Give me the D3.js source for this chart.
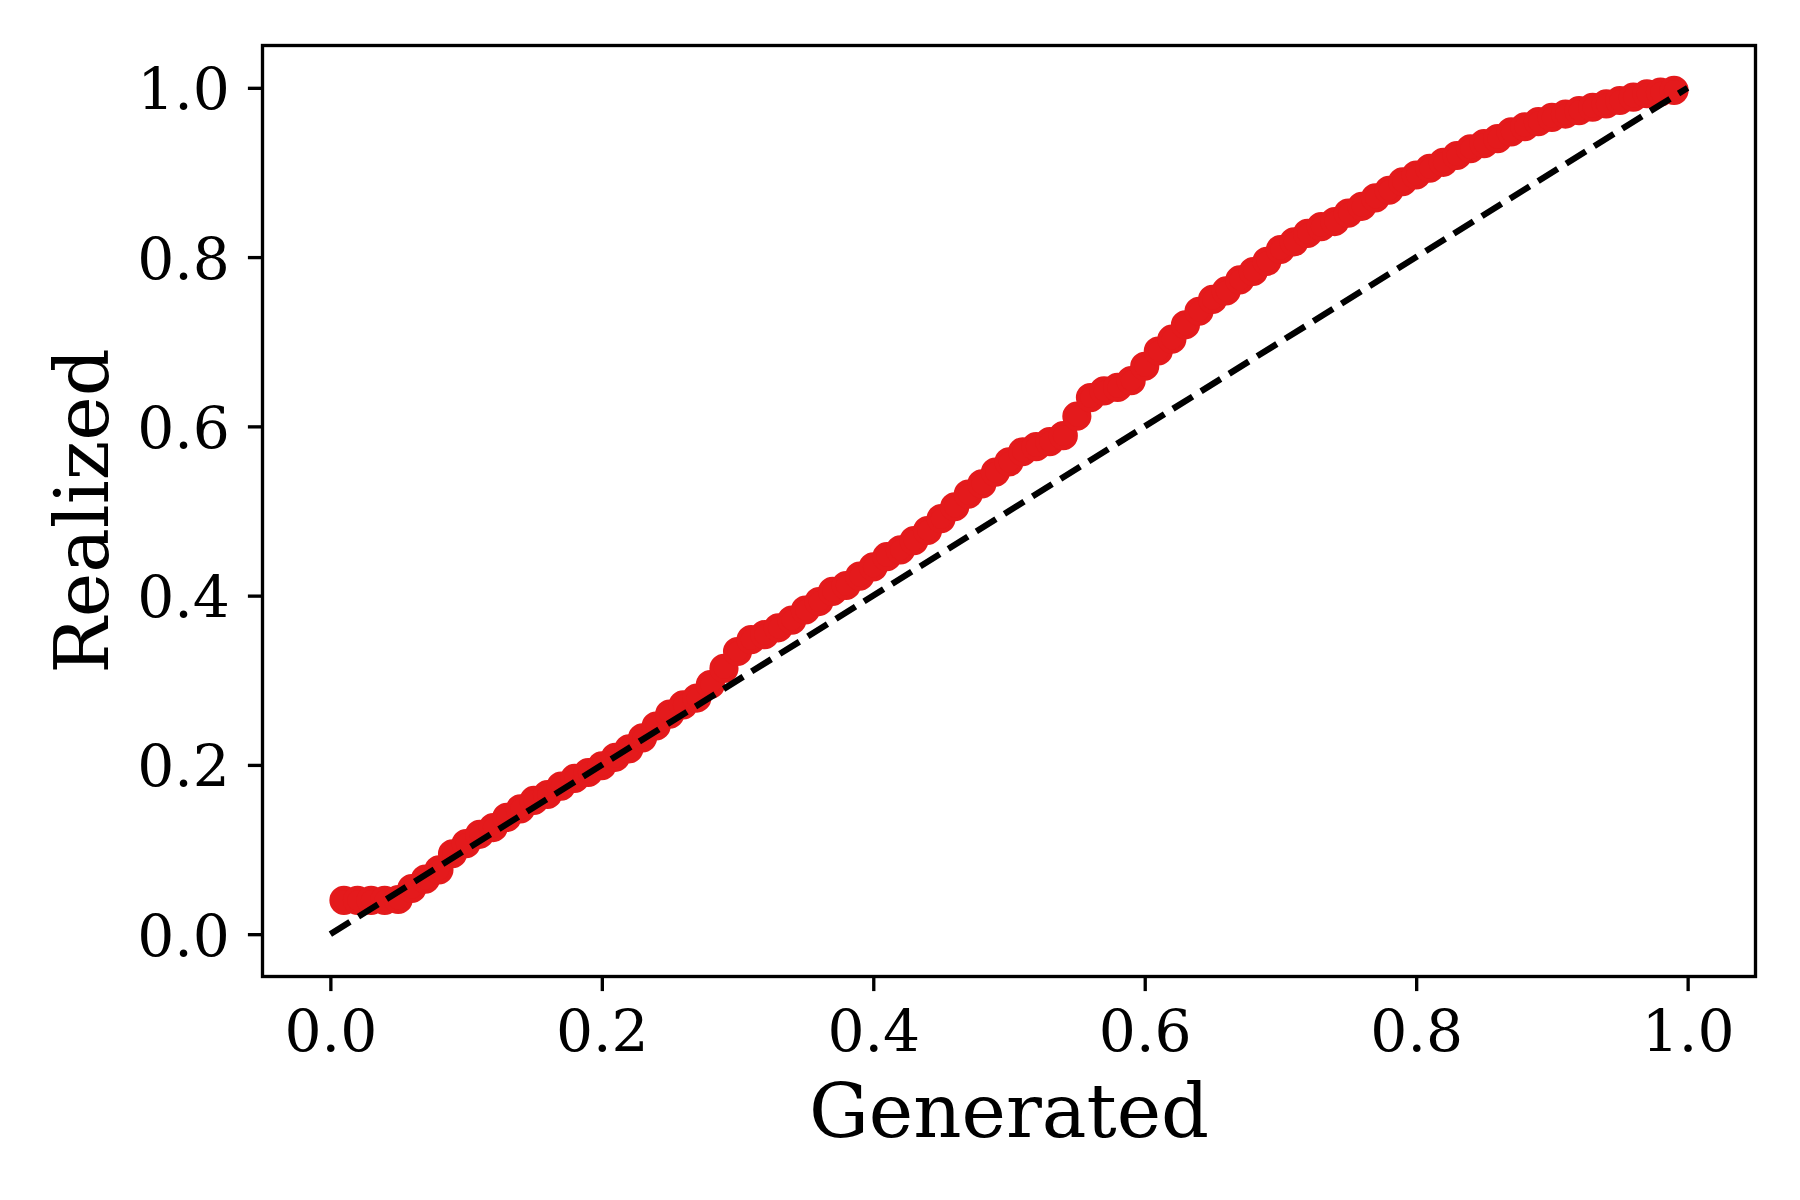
<!DOCTYPE html>
<html>
<head>
<meta charset="utf-8">
<script src="https://cdn.jsdelivr.net/npm/d3@7"></script>
<style>
  body { margin: 0; background: #fff; }
  svg { display: block; font-family: "DejaVu Serif", serif; }
  .tick text { font-size: 58.3px; fill: #000; }
  .tick line { stroke: #000; stroke-width: 3.33; }
</style>
</head>
<body>
<svg id="chart" width="1800" height="1200"></svg>
<script>
// calibration points
const generated = [
  0.01, 0.02, 0.03, 0.04, 0.05, 0.06, 0.07, 0.08, 0.09, 0.10,
  0.11, 0.12, 0.13, 0.14, 0.15, 0.16, 0.17, 0.18, 0.19, 0.20,
  0.21, 0.22, 0.23, 0.24, 0.25, 0.26, 0.27, 0.28, 0.29, 0.30,
  0.31, 0.32, 0.33, 0.34, 0.35, 0.36, 0.37, 0.38, 0.39, 0.40,
  0.41, 0.42, 0.43, 0.44, 0.45, 0.46, 0.47, 0.48, 0.49, 0.50,
  0.51, 0.52, 0.53, 0.54, 0.55, 0.56, 0.57, 0.58, 0.59, 0.60,
  0.61, 0.62, 0.63, 0.64, 0.65, 0.66, 0.67, 0.68, 0.69, 0.70,
  0.71, 0.72, 0.73, 0.74, 0.75, 0.76, 0.77, 0.78, 0.79, 0.80,
  0.81, 0.82, 0.83, 0.84, 0.85, 0.86, 0.87, 0.88, 0.89, 0.90,
  0.91, 0.92, 0.93, 0.94, 0.95, 0.96, 0.97, 0.98, 0.99
];
const realized = [
  0.040, 0.040, 0.040, 0.040, 0.041, 0.054, 0.065, 0.076, 0.095, 0.107,
  0.118, 0.126, 0.138, 0.148, 0.158, 0.165, 0.175, 0.184, 0.191, 0.199,
  0.209, 0.219, 0.232, 0.246, 0.260, 0.271, 0.279, 0.295, 0.314, 0.334,
  0.348, 0.354, 0.362, 0.371, 0.383, 0.393, 0.405, 0.412, 0.423, 0.434,
  0.446, 0.454, 0.465, 0.477, 0.491, 0.505, 0.520, 0.532, 0.546, 0.558,
  0.570, 0.576, 0.582, 0.589, 0.612, 0.634, 0.642, 0.646, 0.654, 0.671,
  0.689, 0.703, 0.720, 0.736, 0.750, 0.760, 0.773, 0.783, 0.795, 0.809,
  0.818, 0.828, 0.836, 0.842, 0.852, 0.860, 0.870, 0.879, 0.889, 0.897,
  0.905, 0.912, 0.920, 0.928, 0.934, 0.940, 0.948, 0.954, 0.960, 0.965,
  0.969, 0.973, 0.977, 0.981, 0.985, 0.989, 0.993, 0.995, 0.997
];
const diagonal = [0, 1];
const xTicks = [0.0, 0.2, 0.4, 0.6, 0.8, 1.0];
const yTicks = [0.0, 0.2, 0.4, 0.6, 0.8, 1.0];

const svg = d3.select("#chart");
const plot = { left: 262.5, right: 1755.5, top: 45.5, bottom: 976.5 };

const x = d3.scaleLinear().domain([-0.05, 1.05]).range([plot.left, plot.right]);
const y = d3.scaleLinear().domain([-0.05, 1.05]).range([plot.bottom, plot.top]);

const points = generated.map((g, i) => ({ g: g, r: realized[i] }));

// markers
svg
  .append("g")
  .selectAll("circle")
  .data(points)
  .join("circle")
  .attr("cx", (d) => x(d.g))
  .attr("cy", (d) => y(d.r))
  .attr("r", 12.5)
  .attr("fill", "#e41a1c")
  .attr("stroke", "#e41a1c")
  .attr("stroke-width", 4.17);

// perfect calibration line
svg
  .append("line")
  .attr("x1", x(diagonal[0]))
  .attr("y1", y(diagonal[0]))
  .attr("x2", x(diagonal[1]))
  .attr("y2", y(diagonal[1]))
  .attr("stroke", "#000")
  .attr("stroke-width", 6.25)
  .attr("stroke-dasharray", "23.1,10");

// axes
const xAxis = svg
  .append("g")
  .attr("transform", "translate(0," + plot.bottom + ")")
  .call(
    d3.axisBottom(x).tickValues(xTicks).tickFormat(d3.format(".1f"))
      .tickSize(14.6).tickPadding(19)
  );
xAxis.select(".domain").remove();

const yAxis = svg
  .append("g")
  .attr("transform", "translate(" + plot.left + ",0)")
  .call(
    d3.axisLeft(y).tickValues(yTicks).tickFormat(d3.format(".1f"))
      .tickSize(14.6).tickPadding(18)
  );
yAxis.select(".domain").remove();
yAxis.selectAll("text").attr("dy", "0.36em");

svg.selectAll(".tick text").attr("font-family", "DejaVu Serif");

// frame
svg
  .append("rect")
  .attr("x", plot.left)
  .attr("y", plot.top)
  .attr("width", plot.right - plot.left)
  .attr("height", plot.bottom - plot.top)
  .attr("fill", "none")
  .attr("stroke", "#000")
  .attr("stroke-width", 3.33);

// axis labels
svg
  .append("text")
  .attr("x", (plot.left + plot.right) / 2)
  .attr("y", 1137)
  .attr("text-anchor", "middle")
  .attr("font-size", 75)
  .text("Generated");

svg
  .append("text")
  .attr("transform", "translate(108," + (plot.top + plot.bottom) / 2 + ") rotate(-90)")
  .attr("text-anchor", "middle")
  .attr("font-size", 75)
  .text("Realized");
</script>
</body>
</html>
